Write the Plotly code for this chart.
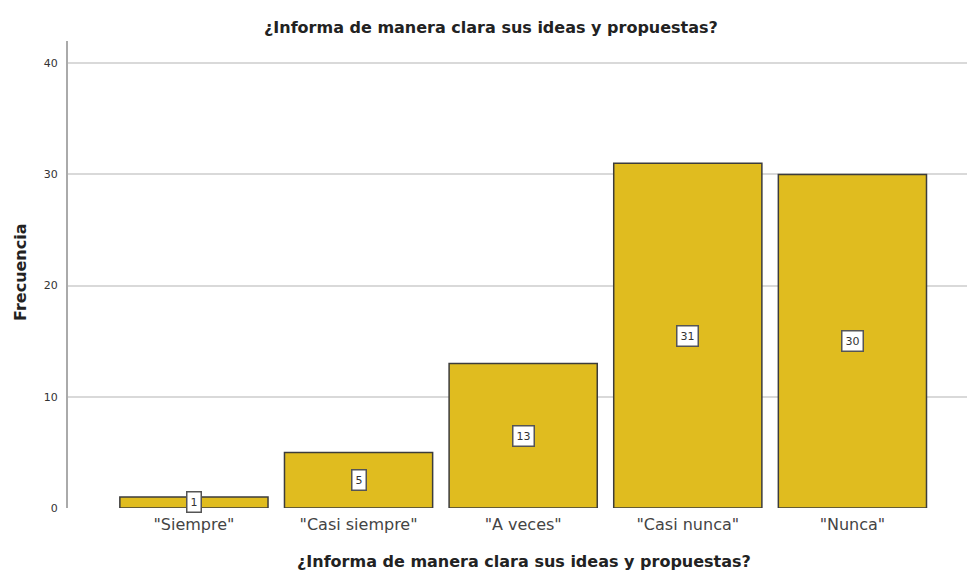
import plotly.graph_objects as go

# Frequency table for the survey question
categories = ['"Siempre"', '"Casi siempre"', '"A veces"', '"Casi nunca"', '"Nunca"']
counts = [1, 5, 13, 31, 30]
y_ticks = [0, 10, 20, 30, 40]

question = "¿Informa de manera clara sus ideas y propuestas?"
bar_color = "#E0BC1F"
edge_color = "#3C3C3C"
font_family = "DejaVu Sans, Liberation Sans, Arial, sans-serif"

xpos = list(range(len(categories)))

fig = go.Figure()
fig.add_trace(go.Bar(
    x=xpos,
    y=counts,
    width=0.9,
    marker=dict(color=bar_color, line=dict(color=edge_color, width=1.5)),
    hoverinfo="skip",
))

# Value labels in small white boxes at the middle of each bar
for xi, c in zip(xpos, counts):
    fig.add_annotation(
        x=xi, y=c / 2, text=str(c), showarrow=False,
        font=dict(family=font_family, size=11, color="#333333"),
        bgcolor="white", bordercolor="#555555", borderwidth=1.5, borderpad=3,
    )

# Chart title and axis titles
fig.add_annotation(
    xref="paper", yref="paper", x=(491 - 68) / 899, y=1 + (41 - 27) / 467,
    text=f"<b>{question}</b>", showarrow=False,
    font=dict(family=font_family, size=16, color="#222222"),
    xanchor="center", yanchor="middle",
)
fig.add_annotation(
    xref="paper", yref="paper", x=(524 - 68) / 899, y=-(561 - 508) / 467,
    text=f"<b>{question}</b>", showarrow=False,
    font=dict(family=font_family, size=16, color="#222222"),
    xanchor="center", yanchor="middle",
)
fig.add_annotation(
    xref="paper", yref="paper", x=-(68 - 20) / 899, y=(508 - 272) / 467,
    text="<b>Frecuencia</b>", showarrow=False, textangle=-90,
    font=dict(family=font_family, size=16, color="#222222"),
    xanchor="center", yanchor="middle",
)

fig.update_layout(
    width=967, height=573,
    margin=dict(l=68, r=0, t=41, b=65),
    paper_bgcolor="white", plot_bgcolor="white",
    showlegend=False,
    bargap=0.1,
    xaxis=dict(
        range=[-0.765, 4.696],
        tickmode="array", tickvals=xpos, ticktext=categories,
        tickfont=dict(family=font_family, size=16, color="#444444"),
        showgrid=False, zeroline=False, showline=False, ticks="",
        ticklabelstandoff=5,
        fixedrange=True,
    ),
    yaxis=dict(
        range=[0, 42],
        tickmode="array", tickvals=y_ticks,
        tickfont=dict(family=font_family, size=11, color="#333333"),
        showgrid=True, gridcolor="#D9D9D9", gridwidth=2,
        zeroline=False, showline=True, linecolor="#AAAAAA", linewidth=2,
        ticks="", ticklabelstandoff=6,
        fixedrange=True,
    ),
)

fig.write_html("out.html")
